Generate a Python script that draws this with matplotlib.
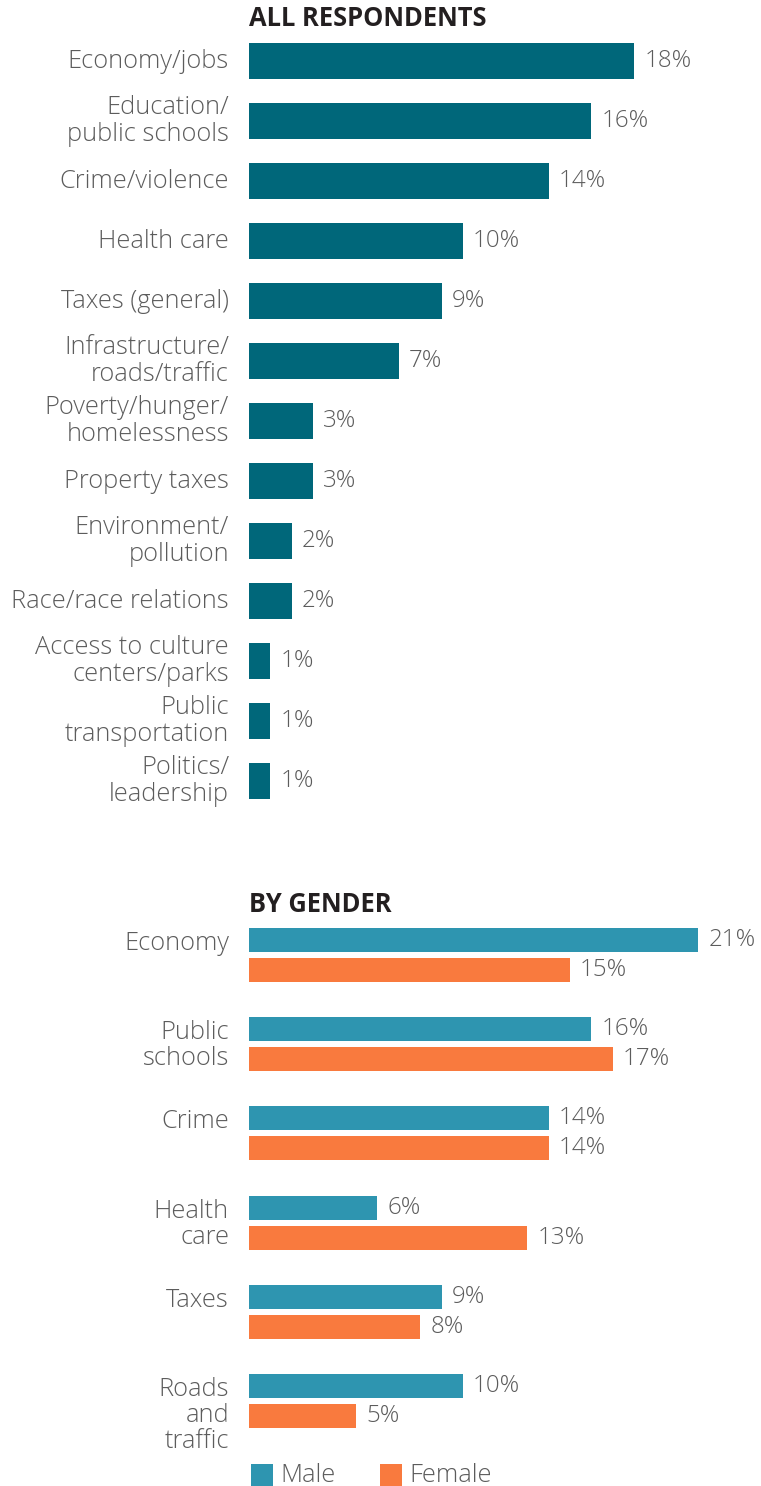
import matplotlib.pyplot as plt
from matplotlib import font_manager as fm
from matplotlib.patches import Rectangle

# Survey data: most important issue
all_categories = ["Economy/jobs", "Education/\npublic schools", "Crime/violence", "Health care",
                  "Taxes (general)", "Infrastructure/\nroads/traffic", "Poverty/hunger/\nhomelessness",
                  "Property taxes", "Environment/\npollution", "Race/race relations",
                  "Access to culture\ncenters/parks", "Public\ntransportation", "Politics/\nleadership"]
all_values = [18, 16, 14, 10, 9, 7, 3, 3, 2, 2, 1, 1, 1]

gender_categories = ["Economy", "Public\nschools", "Crime", "Health\ncare", "Taxes", "Roads\nand\ntraffic"]
male_values = [21, 16, 14, 6, 9, 10]
female_values = [15, 17, 14, 13, 8, 5]
legend_labels = ["Male", "Female"]

TEAL = "#00677a"
MALE = "#2e95b0"
FEMALE = "#f97a3e"
LABEL = "#5c5c5c"
TITLE = "#231f20"


def _is_light(w):
    return w in (300, "light", "300")


# pick a light sans face if one is installed, otherwise regular Lato
fonts = fm.fontManager.ttflist
FONT, WEIGHT = "Lato", "normal"
for cand in ["Open Sans", "Roboto", "Lato", "Noto Sans", "Inter"]:
    if any(f.name == cand and _is_light(f.weight) for f in fonts):
        FONT, WEIGHT = cand, 300
        break
plt.rcParams["font.family"] = [FONT, "DejaVu Sans"]

W, H = 761, 1486
fig = plt.figure(figsize=(W / 100, H / 100), dpi=100)
renderer = fig.canvas.get_renderer()


def size_for_width(s, target_px, weight):
    t = fig.text(0, 0, s, fontsize=10, fontweight=weight)
    w = t.get_window_extent(renderer).width
    t.remove()
    return 10 * target_px / w


LABEL_SIZE = size_for_width("Economy/jobs", 160, WEIGHT)
VALUE_SIZE = LABEL_SIZE * 0.95
TITLE_SIZE = size_for_width("ALL RESPONDENTS", 238, "bold")
LS = 1.06

PX_PER_UNIT = 21.4
LEFT = 249
xmax = (W - LEFT) / PX_PER_UNIT


def add_axes_px(top, bottom):
    return fig.add_axes([LEFT / W, 1 - bottom / H, (W - LEFT) / W, (bottom - top) / H])


def clean(ax):
    for s in ax.spines.values():
        s.set_visible(False)
    ax.set_xticks([])
    ax.set_yticks([])
    ax.set_xlim(0, xmax)


# Top panel: all respondents
n = len(all_values)
ax1 = add_axes_px(31, 31 + 60 * n)
clean(ax1)
ax1.set_ylim(n - 0.5, -0.5)
ypos = list(range(n))
ax1.barh(ypos, all_values, height=0.6, color=TEAL)
for y, v, c in zip(ypos, all_values, all_categories):
    ax1.text(v + 10 / PX_PER_UNIT, y, f"{v}%", va="center", ha="left",
             fontsize=VALUE_SIZE, color=LABEL, fontweight=WEIGHT)
    ax1.text(-20 / PX_PER_UNIT, y, c, va="center", ha="right", fontsize=LABEL_SIZE,
             color=LABEL, fontweight=WEIGHT, linespacing=LS, clip_on=False)
fig.text(LEFT / W, 1 - 18 / H, "ALL RESPONDENTS", ha="left", va="center",
         fontsize=TITLE_SIZE, fontweight="bold", color=TITLE)

# Bottom panel: by gender
m = len(male_values)
pitch = 89.2
top2 = 955 - pitch / 2
ax2 = add_axes_px(top2, top2 + pitch * m)
clean(ax2)
ax2.set_ylim(m - 0.5, -0.5)
off = 15 / pitch
bh = 24 / pitch
gpos = list(range(m))
ax2.barh([g - off for g in gpos], male_values, height=bh, color=MALE)
ax2.barh([g + off for g in gpos], female_values, height=bh, color=FEMALE)
for g, mv, fv, c in zip(gpos, male_values, female_values, gender_categories):
    ax2.text(mv + 10 / PX_PER_UNIT, g - off, f"{mv}%", va="center", ha="left",
             fontsize=VALUE_SIZE, color=LABEL, fontweight=WEIGHT)
    ax2.text(fv + 10 / PX_PER_UNIT, g + off, f"{fv}%", va="center", ha="left",
             fontsize=VALUE_SIZE, color=LABEL, fontweight=WEIGHT)
    ax2.text(-20 / PX_PER_UNIT, g - off - bh / 2 + 3 / pitch, c, va="top", ha="right",
             fontsize=LABEL_SIZE, color=LABEL, fontweight=WEIGHT, linespacing=LS,
             clip_on=False)
fig.text(LEFT / W, 1 - 904 / H, "BY GENDER", ha="left", va="center",
         fontsize=TITLE_SIZE, fontweight="bold", color=TITLE)

# Legend
for x0, col, lab in zip([251, 380], [MALE, FEMALE], legend_labels):
    fig.add_artist(Rectangle((x0 / W, 0), 22 / W, 22 / H, transform=fig.transFigure,
                             facecolor=col, edgecolor="none"))
    fig.text((x0 + 29) / W, 11 / H, lab, ha="left", va="center", fontsize=LABEL_SIZE,
             color=LABEL, fontweight=WEIGHT)

fig.savefig("out.png", dpi=100)
